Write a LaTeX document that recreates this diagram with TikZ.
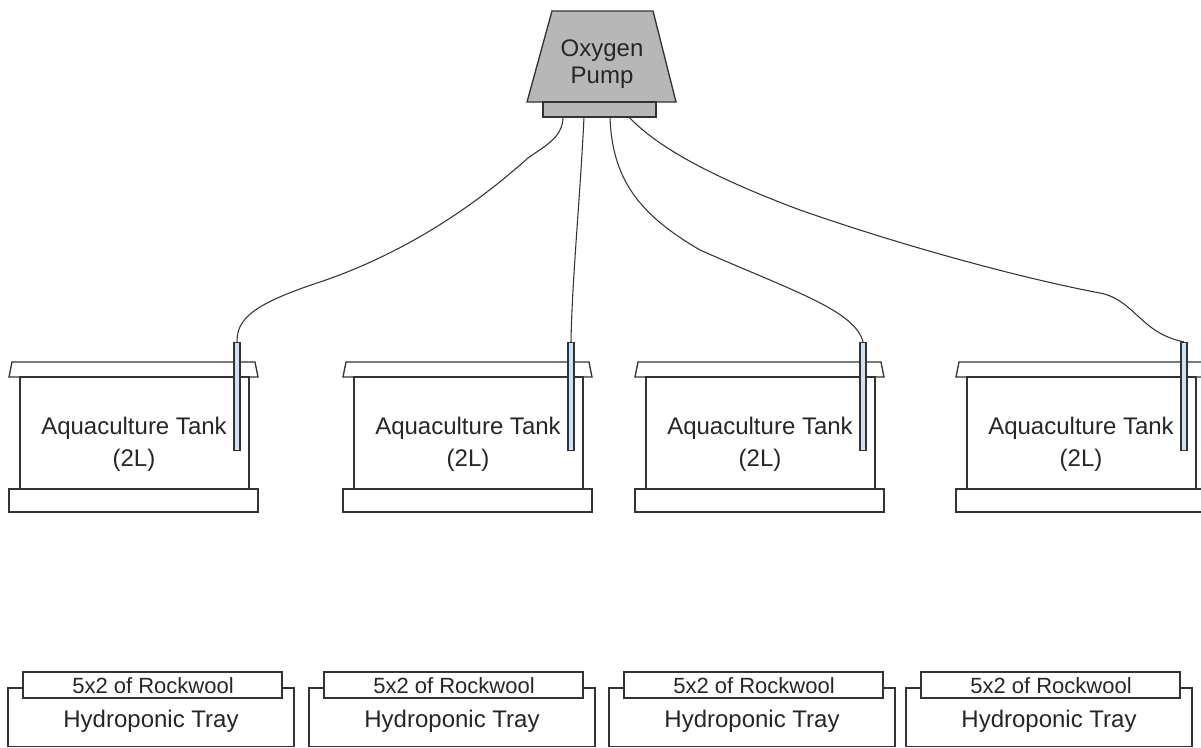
\documentclass[tikz,border=0pt]{standalone}
\usepackage{fontspec}
\setmainfont{Liberation Sans}
\usepackage{xcolor}
\usepackage{tikz}

\definecolor{pumpgray}{HTML}{B7B7B7}
\definecolor{tubeblue}{HTML}{CFE2F3}
\definecolor{edge}{HTML}{333333}

\begin{document}
\begin{tikzpicture}[x=0.75pt, y=-0.75pt,
    part/.style={draw=edge, line width=1pt, fill=white},
    pumpshape/.style={draw=edge, line width=1pt, fill=pumpgray},
    airtube/.style={draw=edge, line width=0.9pt, fill=tubeblue, minimum width=4.5pt, minimum height=81pt, inner sep=0pt},
    hose/.style={draw=edge, line width=0.8pt},
    lbl/.style={font=\fontsize{18}{24}\selectfont, text=black!85, align=center},
    smalllbl/.style={font=\fontsize{16.5}{20}\selectfont, text=black!85}
]
\useasboundingbox (0,0) rectangle (1201,747);

% pump on top
\draw[pumpshape] (552,11) -- (653,11) -- (676,102) -- (527,102) -- cycle;
\node[pumpshape, minimum width=84.75pt, minimum height=11.25pt, inner sep=0pt] (pumpbase) at (599.5,109.5) {};
\node[lbl, font=\fontsize{18}{20.25}\selectfont] (pump) at (602,64) {Oxygen\\Pump};
\coordinate (out1) at (563,117);
\coordinate (out2) at (584,117);
\coordinate (out3) at (610,117);
\coordinate (out4) at (629,117);

% tanks: lid, body, stand, air stone tube
\foreach \x [count=\i] in {9,343,635,956} {
  \draw[part] (\x+3,362) -- (\x+246,362) -- (\x+249,377) -- (\x,377) -- cycle;
  \draw[part] (\x+11,377) rectangle (\x+240,489);
  \draw[part] (\x,489) rectangle (\x+249,512);
  \node[lbl] (tanklbl\i) at (\x+125,444) {Aquaculture Tank\\(2L)};
  \node[airtube] (tube\i) at (\x+228,396.5) {};
}

% air lines
\draw[hose] (out1) .. controls (563,138) and (543,147) .. (528,158)
  .. controls (470,210) and (400,255) .. (320,282)
  .. controls (250,305) and (237,320) .. (tube1.north);
\draw[hose] (out2) .. controls (580,200) and (572,280) .. (tube2.north);
\draw[hose] (out3) .. controls (612,180) and (640,215) .. (700,250)
  .. controls (790,290) and (855,310) .. (tube3.north);
\draw[hose] (out4) .. controls (660,150) and (720,180) .. (800,210)
  .. controls (900,245) and (1020,278) .. (1100,293)
  .. controls (1135,300) and (1140,333) .. (tube4.north);

% trays with rockwool
\foreach \x [count=\i] in {8,309,609,906} {
  \draw[part] (\x,688) rectangle (\x+286,746.5);
  \draw[part] (\x+15,672) rectangle (\x+274,698);
  \node[smalllbl, anchor=base] (wool\i) at (\x+145,693) {5x2 of Rockwool};
  \node[lbl, anchor=base] (tray\i) at (\x+143,727) {Hydroponic Tray};
}
\end{tikzpicture}
\end{document}
